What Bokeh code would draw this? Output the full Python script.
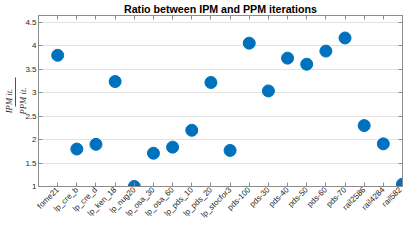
import math
from bokeh.plotting import figure
from bokeh.models import FixedTicker, LinearAxis, Range1d, ColumnDataSource
from bokeh.embed import file_html
from bokeh.resources import INLINE

categories = ["fome21", "lp_cre_b", "lp_cre_d", "lp_ken_18", "lp_nug20",
              "lp_osa_30", "lp_osa_60", "lp_pds_10", "lp_pds_20", "lp_stocfor3",
              "pds-100", "pds-30", "pds-40", "pds-50", "pds-60", "pds-70",
              "rail2586", "rail4284", "rail582"]
ratios = [3.80, 1.80, 1.90, 3.24, 1.00, 1.71, 1.84, 2.20, 3.22, 1.77,
          4.06, 3.04, 3.74, 3.61, 3.89, 4.17, 2.30, 1.91, 1.05]
y_ticks = [1, 1.5, 2, 2.5, 3, 3.5, 4, 4.5]
title_text = "Ratio between IPM and PPM iterations"
ylabel_num = "IPM it."
ylabel_den = "PPM it."

positions = list(range(1, len(categories) + 1))
src = ColumnDataSource(dict(x=positions, y=ratios, name=categories))

AX = "#8c8c8c"
TXT = "#262626"
FONT = "Liberation Sans"

p = figure(width=403, height=225, output_backend="svg", toolbar_location=None,
           x_range=Range1d(0, len(categories)), y_range=Range1d(1, 4.65),
           min_border_left=10, min_border_right=1, min_border_top=2,
           min_border_bottom=0)

p.title.text = title_text
p.title.align = "center"
p.title.text_font = FONT
p.title.text_font_size = "8pt"
p.title.text_font_style = "bold"
p.title.text_color = "#000000"
p.title.standoff = 1

p.scatter("x", "y", source=src, size=12, color="#0072BD", line_color="#0072BD")

p.outline_line_color = AX
p.xgrid.grid_line_color = None
p.ygrid.grid_line_color = "#e3e3e3"
p.ygrid.ticker = FixedTicker(ticks=y_ticks)

xt = FixedTicker(ticks=positions)
yt = FixedTicker(ticks=y_ticks)

bottom = p.below[0]
left = p.left[0]

bottom.ticker = xt
bottom.major_label_overrides = {i: c for i, c in zip(positions, categories)}
bottom.major_label_orientation = math.pi / 4

left.ticker = yt
left.major_label_overrides = {1: "1", 2: "2", 3: "3", 4: "4"}

top = LinearAxis(ticker=xt, major_label_overrides={i: "" for i in positions})
p.add_layout(top, "above")
right = LinearAxis(ticker=yt, major_label_overrides={t: "" for t in y_ticks})
p.add_layout(right, "right")

for ax in [bottom, left, top, right]:
    ax.axis_line_color = AX
    ax.major_tick_line_color = AX
    ax.major_tick_in = 4
    ax.major_tick_out = 0
    ax.minor_tick_line_color = None
    ax.major_label_text_font = FONT
    ax.major_label_text_font_size = "6pt"
    ax.major_label_text_color = TXT
    ax.major_label_standoff = 2

for ax in [top, right]:
    ax.major_label_standoff = 0

# y-axis label drawn as a fraction: denominator on the main axis,
# fraction bar + numerator on an extra bounded axis further left
mid = 2.83
left.axis_label = ylabel_den
left.axis_label_text_font = "Liberation Serif"
left.axis_label_text_font_style = "italic"
left.axis_label_text_font_size = "6.5pt"
left.axis_label_text_color = TXT
left.axis_label_standoff = -6
left.axis_label_text_line_height = 1.5

bar_mid = mid + 0.18
bar = LinearAxis(ticker=FixedTicker(ticks=[bar_mid]), major_label_overrides={bar_mid: ""},
                 bounds=(bar_mid - 0.31, bar_mid + 0.31),
                 axis_line_color=TXT, axis_line_width=0.8,
                 major_tick_line_color=None,
                 major_tick_in=0, major_tick_out=0, minor_tick_line_color=None,
                 major_label_standoff=0,
                 axis_label=ylabel_num, axis_label_text_font="Liberation Serif",
                 axis_label_text_font_style="italic", axis_label_text_font_size="6.5pt",
                 axis_label_text_color=TXT, axis_label_standoff=2)
p.add_layout(bar, "left")

open("out.html", "w").write(file_html(p, INLINE))
